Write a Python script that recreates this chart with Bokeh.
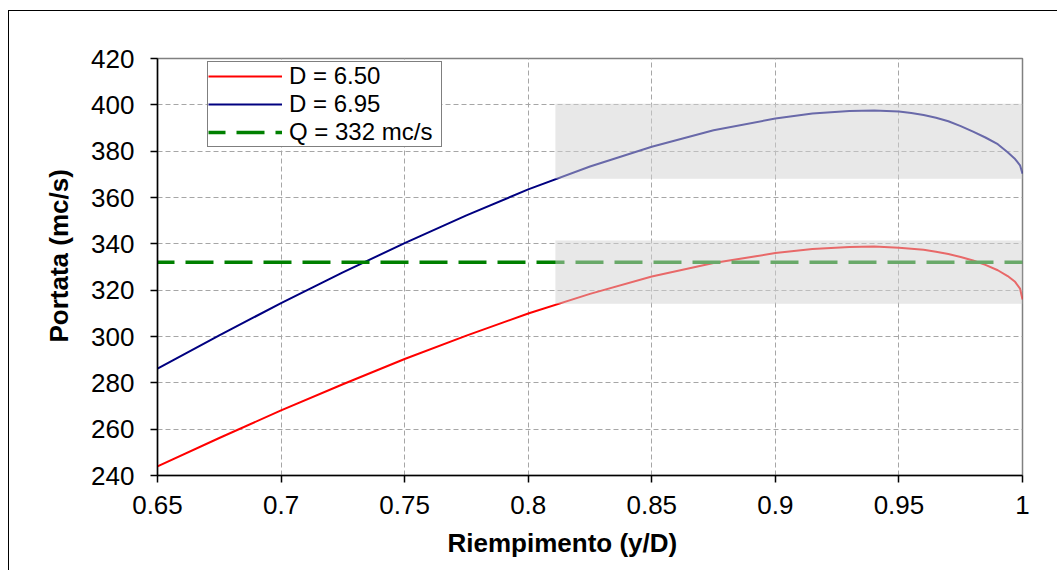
from bokeh.plotting import figure
from bokeh.models import FixedTicker, Legend, LegendItem, Title, Range1d
from bokeh.embed import file_html
from bokeh.resources import INLINE

# ---- data ----
fill_ratio = [0.65, 0.675, 0.70, 0.725, 0.75, 0.775, 0.80, 0.825, 0.85, 0.875,
              0.90, 0.915, 0.93, 0.94, 0.95, 0.955, 0.96, 0.965, 0.97, 0.975,
              0.98, 0.985, 0.99, 0.994, 0.997, 0.999, 1.0]
q_d650 = [243.9, 256.2, 268.1, 279.4, 290.3, 300.4, 309.9, 318.4, 325.9, 331.7,
          336.0, 337.8, 338.6, 338.8, 338.3, 337.9, 337.4, 336.6, 335.6, 334.3,
          332.8, 330.9, 328.6, 326.1, 323.6, 320.7, 316.0]
q_d695 = [286.1, 300.5, 314.4, 327.7, 340.3, 352.3, 363.5, 373.4, 381.9, 389.0,
          394.1, 396.3, 397.3, 397.6, 397.1, 396.5, 395.6, 394.4, 392.9, 390.8,
          388.4, 385.9, 383.0, 379.5, 376.6, 373.9, 370.3]
q_design = 332
design_x = [0.65, 1.0]

# shaded zones
zone_left = [0.811, 0.811]
zone_right = [1.0, 1.0]
zone_bottom = [368.1, 314.1]
zone_top = [400.5, 341.4]

series_labels = ["D = 6.50", "D = 6.95", "Q = 332 mc/s"]
x_ticks = [0.65, 0.7, 0.75, 0.8, 0.85, 0.9, 0.95, 1.0]
x_tick_labels = ["0.65", "0.7", "0.75", "0.8", "0.85", "0.9", "0.95", "1"]
y_ticks = [240, 260, 280, 300, 320, 340, 360, 380, 400, 420]
x_title = "Riempimento (y/D)"
y_title = "Portata (mc/s)"

FONT = "Liberation Sans"

p = figure(width=1057, height=570, output_backend="svg", toolbar_location=None,
           x_range=Range1d(0.65, 1.0), y_range=Range1d(240, 420),
           min_border_left=157, min_border_right=35,
           min_border_top=58, min_border_bottom=95)
p.border_fill_color = None
p.background_fill_color = "white"
p.outline_line_color = "#808080"
p.outline_line_width = 1.5
p.styles = {
    "background-image": "linear-gradient(#000,#000), linear-gradient(#000,#000)",
    "background-size": "1px 100%, 100% 1px",
    "background-position": "8px 10px, 8px 10px",
    "background-repeat": "no-repeat",
}

r_red = p.line(fill_ratio, q_d650, line_color="#ff0000", line_width=2)
r_blue = p.line(fill_ratio, q_d695, line_color="#000080", line_width=2)
r_green = p.line(design_x, [q_design, q_design], line_color="#008000",
                 line_width=3.5, line_dash="28 11", line_dash_offset=11)

p.quad(left=zone_left, right=zone_right, bottom=zone_bottom, top=zone_top,
       fill_color="#d2d2d2", fill_alpha=0.5, line_color=None)

for ax in (p.xaxis, p.yaxis):
    ax.axis_line_color = "black"
    ax.axis_line_width = 1.5
    ax.major_tick_line_color = "black"
    ax.major_tick_line_width = 1.5
    ax.major_tick_out = 7
    ax.major_tick_in = 0
    ax.minor_tick_line_color = None
    ax.major_label_text_font = FONT
    ax.major_label_text_font_size = "26px"
    ax.major_label_text_color = "black"

p.xaxis.ticker = FixedTicker(ticks=x_ticks)
p.xaxis.major_label_overrides = dict(zip(x_ticks, x_tick_labels))
p.xaxis.major_label_standoff = 13
p.yaxis.ticker = FixedTicker(ticks=y_ticks)
p.yaxis.major_label_standoff = 16

for g in (p.xgrid, p.ygrid):
    g.grid_line_color = "#a6a6a6"
    g.grid_line_width = 1
    g.grid_line_dash = "5 3"

legend = Legend(items=[LegendItem(label=series_labels[0], renderers=[r_red]),
                       LegendItem(label=series_labels[1], renderers=[r_blue]),
                       LegendItem(label=series_labels[2], renderers=[r_green])],
                location=(50, 328))
legend.label_text_font = FONT
legend.label_text_font_size = "24px"
legend.label_text_color = "black"
legend.border_line_color = "black"
legend.border_line_width = 1
legend.background_fill_color = "white"
legend.background_fill_alpha = 1
legend.padding = 0
legend.spacing = -5
legend.margin = 0
legend.glyph_width = 74
legend.glyph_height = 20
legend.label_height = 20
legend.label_width = 152
legend.label_standoff = 7
p.add_layout(legend)

p.add_layout(Title(text=x_title, align="left", offset=290, vertical_align="top",
                   standoff=22, text_font=FONT, text_font_size="26px",
                   text_font_style="bold", text_color="black"), "below")
p.add_layout(Title(text=y_title, align="left", offset=133, vertical_align="bottom",
                   standoff=30, text_font=FONT, text_font_size="26px",
                   text_font_style="bold", text_color="black"), "left")

open("out.html", "w").write(file_html(p, INLINE))
